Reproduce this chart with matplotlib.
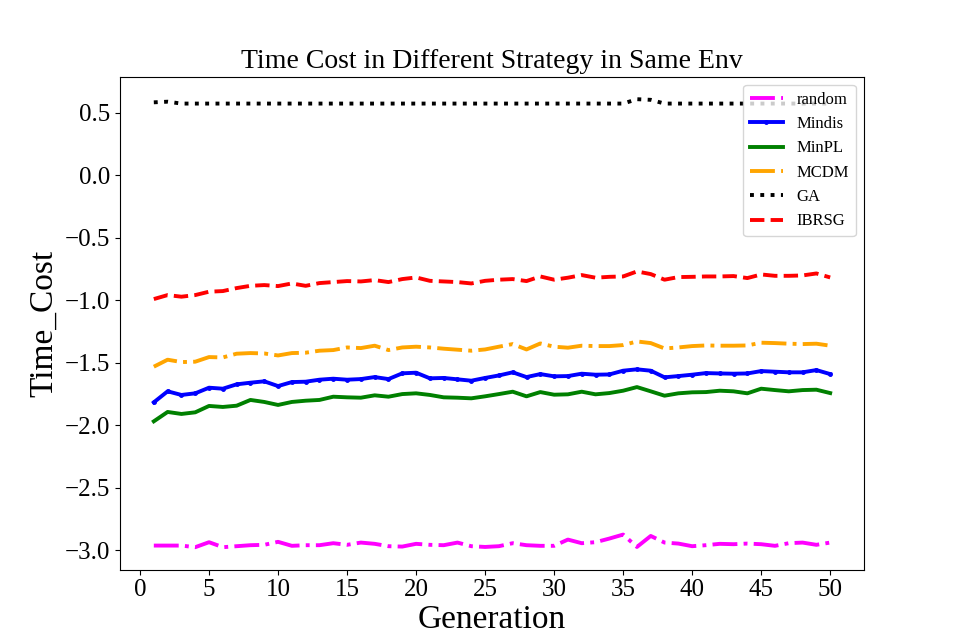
import matplotlib
matplotlib.use('Agg')
import matplotlib.pyplot as plt

plt.rcParams['font.family'] = ['Liberation Serif', 'DejaVu Serif']

generations = list(range(1, 51))

random_cost = [-2.961, -2.961, -2.961, -2.974, -2.934, -2.974, -2.966, -2.958, -2.955, -2.931,
               -2.963, -2.958, -2.958, -2.942, -2.955, -2.937, -2.947, -2.966, -2.969, -2.947,
               -2.955, -2.958, -2.937, -2.966, -2.972, -2.966, -2.942, -2.958, -2.963, -2.963,
               -2.913, -2.942, -2.934, -2.905, -2.873, -2.972, -2.884, -2.937, -2.945, -2.966,
               -2.958, -2.947, -2.950, -2.945, -2.950, -2.963, -2.942, -2.937, -2.955, -2.937]

mindis_cost = [-1.815, -1.727, -1.756, -1.743, -1.698, -1.706, -1.671, -1.658, -1.647, -1.685,
               -1.653, -1.650, -1.634, -1.626, -1.634, -1.629, -1.613, -1.629, -1.583, -1.578,
               -1.623, -1.620, -1.631, -1.642, -1.620, -1.600, -1.575, -1.613, -1.589, -1.607,
               -1.605, -1.586, -1.594, -1.592, -1.562, -1.551, -1.562, -1.615, -1.605, -1.594,
               -1.581, -1.584, -1.586, -1.584, -1.565, -1.570, -1.575, -1.575, -1.557, -1.589]

minpl_cost = [-1.967, -1.892, -1.908, -1.895, -1.844, -1.852, -1.842, -1.796, -1.812, -1.836,
              -1.812, -1.802, -1.796, -1.770, -1.775, -1.778, -1.759, -1.770, -1.749, -1.743,
              -1.756, -1.775, -1.778, -1.783, -1.767, -1.749, -1.730, -1.767, -1.733, -1.754,
              -1.751, -1.730, -1.751, -1.741, -1.722, -1.693, -1.727, -1.762, -1.743, -1.735,
              -1.733, -1.722, -1.727, -1.743, -1.706, -1.717, -1.727, -1.717, -1.714, -1.741]

mcdm_cost = [-1.530, -1.474, -1.493, -1.490, -1.453, -1.456, -1.426, -1.421, -1.424, -1.440,
             -1.421, -1.418, -1.402, -1.397, -1.376, -1.381, -1.362, -1.397, -1.376, -1.370,
             -1.376, -1.386, -1.394, -1.402, -1.392, -1.370, -1.349, -1.392, -1.344, -1.370,
             -1.378, -1.362, -1.365, -1.365, -1.357, -1.328, -1.341, -1.384, -1.376, -1.365,
             -1.360, -1.362, -1.362, -1.360, -1.338, -1.341, -1.346, -1.349, -1.346, -1.362]

ga_cost = [0.585, 0.590, 0.575, 0.575, 0.575, 0.575, 0.575, 0.575, 0.575, 0.575,
           0.575, 0.575, 0.575, 0.575, 0.575, 0.575, 0.575, 0.575, 0.575, 0.575,
           0.575, 0.575, 0.575, 0.575, 0.575, 0.575, 0.575, 0.575, 0.575, 0.575,
           0.575, 0.575, 0.575, 0.575, 0.575, 0.610, 0.605, 0.575, 0.575, 0.575,
           0.575, 0.575, 0.575, 0.575, 0.575, 0.575, 0.575, 0.575, 0.575, 0.575]

ibrsg_cost = [-0.989, -0.957, -0.970, -0.957, -0.930, -0.925, -0.901, -0.883, -0.877, -0.885,
              -0.864, -0.883, -0.861, -0.853, -0.845, -0.848, -0.837, -0.853, -0.829, -0.816,
              -0.843, -0.848, -0.853, -0.864, -0.843, -0.834, -0.829, -0.845, -0.808, -0.834,
              -0.818, -0.797, -0.818, -0.811, -0.808, -0.768, -0.789, -0.834, -0.813, -0.811,
              -0.808, -0.808, -0.805, -0.821, -0.792, -0.803, -0.803, -0.800, -0.784, -0.816]

fig = plt.figure(figsize=(9.6, 6.4), dpi=100)
lw = 2.8
plt.plot(generations, random_cost, color='magenta', linestyle='-.', linewidth=lw, label='random')
plt.plot(generations, mindis_cost, color='blue', linestyle='-', marker='.', markersize=5,
         linewidth=lw, label='Mindis')
plt.plot(generations, minpl_cost, color='green', linestyle='-', linewidth=lw, label='MinPL')
plt.plot(generations, mcdm_cost, color='orange', linestyle='-.', linewidth=lw, label='MCDM')
plt.plot(generations, ga_cost, color='black', linestyle=':', linewidth=lw, label='GA')
plt.plot(generations, ibrsg_cost, color='red', linestyle='--', linewidth=lw, label='IBRSG')

plt.title('Time Cost in Different Strategy in Same Env', fontsize=20)
plt.xlabel('Generation', fontsize=24, labelpad=2)
plt.ylabel('Time_Cost', fontsize=24)
plt.xticks(range(0, 51, 5), fontsize=18)
plt.yticks(fontsize=18)
plt.legend(loc='upper right', fontsize=12)

plt.savefig('out.png', dpi=100)
plt.close()
